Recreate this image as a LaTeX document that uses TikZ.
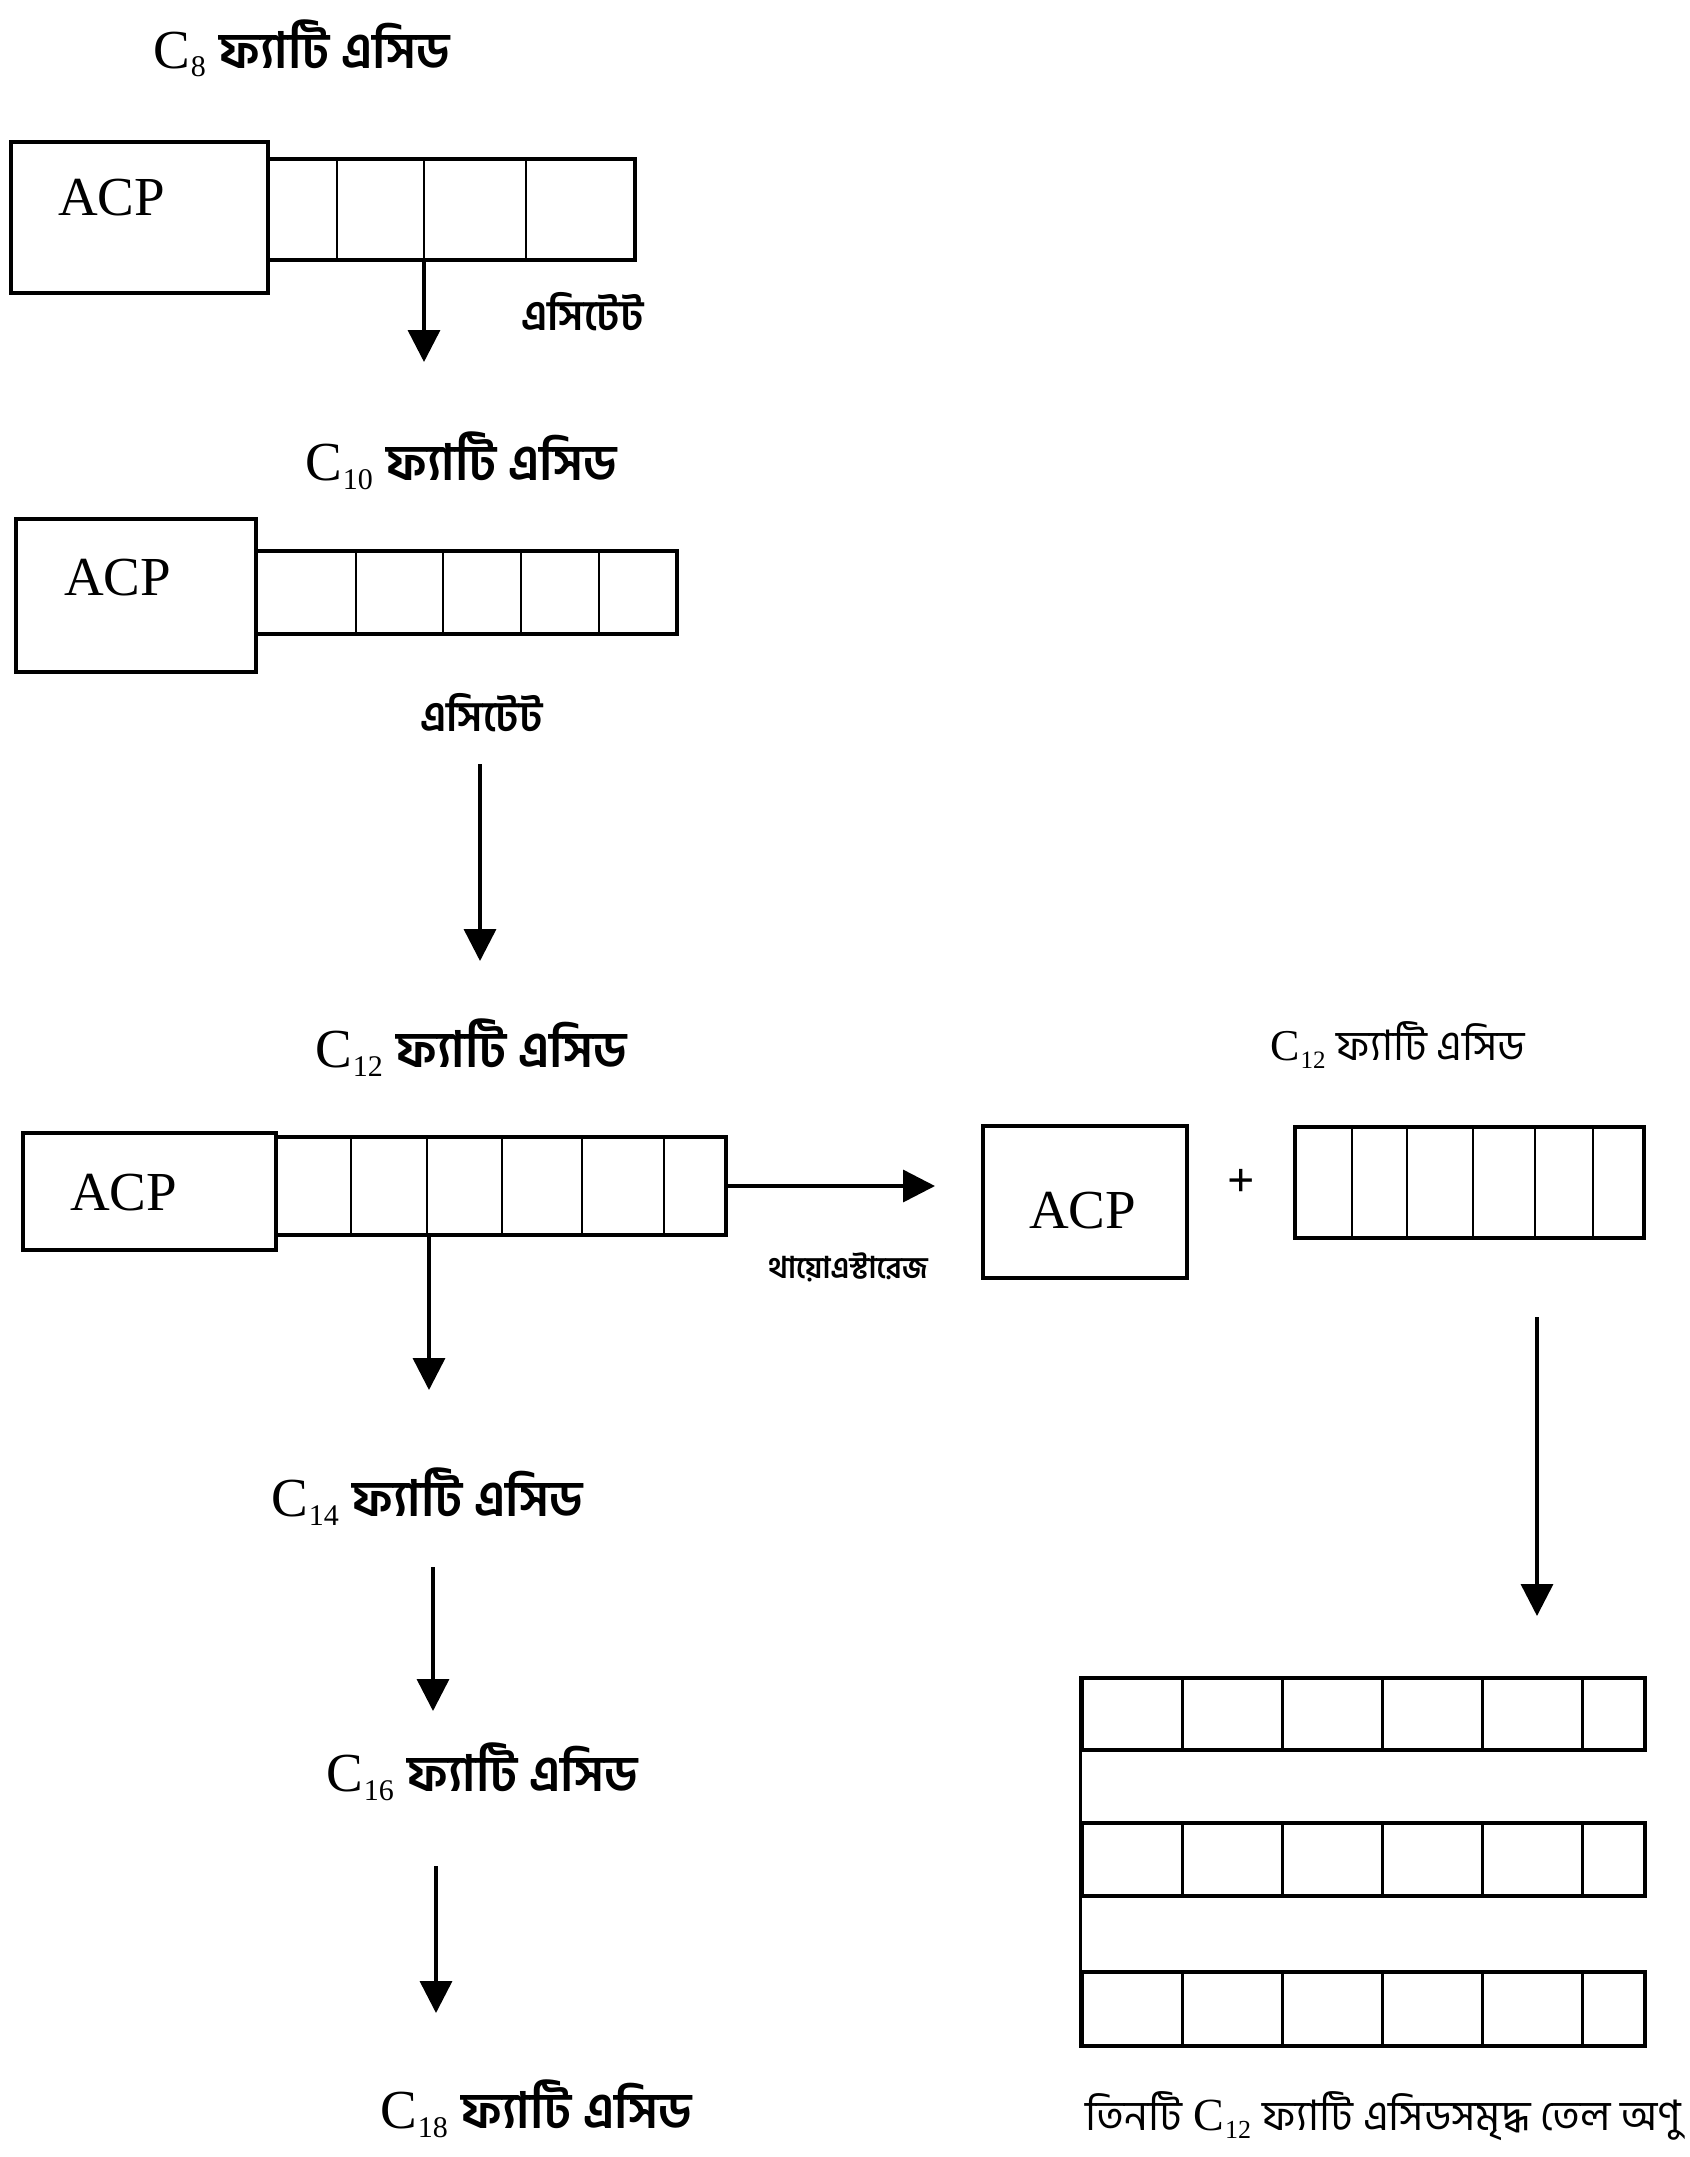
\documentclass[tikz,border=0pt]{standalone}
\usepackage{fontspec}
\setmainfont{Liberation Serif}
\newfontfamily\bn[Script=Bengali]{Hind Siliguri}
\usetikzlibrary{arrows.meta}
\newcommand\cs[3]{C\raisebox{-#3pt}{\fontsize{#2}{#2}\selectfont\kern1pt #1}}
\newcommand\bnt[2]{{\bn\bfseries\fontsize{#1}{#1}\selectfont #2}}
\newcommand\bnr[2]{{\bn\fontsize{#1}{#1}\selectfont #2}}
\begin{document}
\begin{tikzpicture}[x=1pt,y=-1pt,
  box/.style={draw, line width=4pt, inner sep=0pt},
  div/.style={line width=2.5pt},
  arr/.style={line width=3.5pt, -{Triangle[length=32pt,width=32pt]}},
  acptxt/.style={inner sep=0pt, anchor=base west, font=\fontsize{55}{60}\selectfont},
  lbl/.style={inner sep=0pt, anchor=base west, font=\fontsize{55}{60}\selectfont},
  slbl/.style={inner sep=0pt, anchor=base west, font=\fontsize{44}{50}\selectfont},
]
\useasboundingbox (0,0) rectangle (1689,2157);
\fill[white] (0,0) rectangle (1689,2157);

% ---------- C8 ----------
\node[lbl] (c8) at (153,68) {\cs{8}{30}{9} \bnt{50}{ফ্যাটি এসিড}};
\node[box, minimum width=257pt, minimum height=151pt] (acp1) at (139.5,217.5) {};
\node[acptxt] (acp1t) at (58,215) {ACP};
\node[box, minimum width=367pt, minimum height=101pt] (ch1) at (451.5,209.5) {};
\foreach \x in {337,424,526} \draw[div] (\x,0 |- ch1.north) -- (\x,0 |- ch1.south);
\coordinate (t1) at (424,362);
\draw[arr] (ch1.south -| t1) -- (t1);
\node[inner sep=0pt, anchor=base west] (ac1) at (521,330) {\bnt{42}{এসিটেট}};

% ---------- C10 ----------
\node[lbl] (c10) at (305,480) {\cs{10}{30}{9} \bnt{50}{ফ্যাটি এসিড}};
\node[box, minimum width=240pt, minimum height=153pt] (acp2) at (136,595.5) {};
\node[acptxt] (acp2t) at (64,595) {ACP};
\node[box, minimum width=421pt, minimum height=83pt] (ch2) at (466.5,592.5) {};
\foreach \x in {356,443,521,599} \draw[div] (\x,0 |- ch2.north) -- (\x,0 |- ch2.south);
\node[inner sep=0pt, anchor=base west] (ac2) at (420,731) {\bnt{42}{এসিটেট}};
\coordinate (s2) at (480,764);
\coordinate (t2) at (480,961);
\draw[arr] (s2) -- (t2);

% ---------- C12 ----------
\node[lbl] (c12) at (315,1067) {\cs{12}{30}{9} \bnt{50}{ফ্যাটি এসিড}};
\node[box, minimum width=253pt, minimum height=117pt] (acp3) at (149.5,1191.5) {};
\node[acptxt] (acp3t) at (70,1210) {ACP};
\node[box, minimum width=450pt, minimum height=98pt] (ch3) at (501,1186) {};
\foreach \x in {351,427,502,582,664} \draw[div] (\x,0 |- ch3.north) -- (\x,0 |- ch3.south);
\coordinate (t3) at (429,1390);
\draw[arr] (ch3.south -| t3) -- (t3);

% right branch
\coordinate (t4) at (935,1186);
\draw[arr] (ch3.east) -- (t4);
\node[inner sep=0pt, anchor=base west] (thio) at (768,1278) {\bnt{30}{থায়োএস্টারেজ}};
\node[box, minimum width=204pt, minimum height=152pt] (acp4) at (1085,1202) {};
\node[acptxt] (acp4t) at (1029,1228) {ACP};
\node[inner sep=0pt, font=\bfseries\fontsize{48}{50}\selectfont] (plus) at (1241,1183) {+};
\node[slbl] (c12r) at (1270,1060) {\cs{12}{25}{8} \bnr{42}{ফ্যাটি এসিড}};
\node[box, minimum width=349pt, minimum height=111pt] (ch4) at (1469.5,1182.5) {};
\foreach \x in {1352,1407,1473,1535,1593} \draw[div] (\x,0 |- ch4.north) -- (\x,0 |- ch4.south);
\coordinate (s5) at (1537,1317);
\coordinate (t5) at (1537,1616);
\draw[arr] (s5) -- (t5);

% ---------- C14 .. C18 ----------
\node[lbl] (c14) at (271,1516) {\cs{14}{30}{9} \bnt{50}{ফ্যাটি এসিড}};
\coordinate (s6) at (433,1567);
\coordinate (t6) at (433,1711);
\draw[arr] (s6) -- (t6);
\node[lbl] (c16) at (326,1791) {\cs{16}{30}{9} \bnt{50}{ফ্যাটি এসিড}};
\coordinate (s7) at (436,1866);
\coordinate (t7) at (436,2013);
\draw[arr] (s7) -- (t7);
\node[lbl] (c18) at (380,2128) {\cs{18}{30}{9} \bnt{50}{ফ্যাটি এসিড}};

% ---------- triglyceride ----------
\node[box, line width=3.5pt, minimum width=563pt, minimum height=72pt] (tg1) at (1363.5,1714) {};
\node[box, line width=3.5pt, minimum width=563pt, minimum height=73pt] (tg2) at (1363.5,1859.5) {};
\node[box, line width=3.5pt, minimum width=563pt, minimum height=74pt] (tg3) at (1363.5,2009) {};
\foreach \r in {tg1,tg2,tg3}
  \foreach \x in {1182,1282,1382,1482,1582}
    \draw[line width=3pt] (\x,0 |- \r.north) -- (\x,0 |- \r.south);
\draw[line width=3.5pt] (tg1.north west) -- (tg3.south west);
\node[inner sep=0pt, anchor=base west, font=\fontsize{46}{50}\selectfont] (cap) at (1085,2130)
  {\bnr{42}{তিনটি} \cs{12}{26}{8} \bnr{42}{ফ্যাটি এসিডসমৃদ্ধ তেল অণু}};
\end{tikzpicture}
\end{document}
